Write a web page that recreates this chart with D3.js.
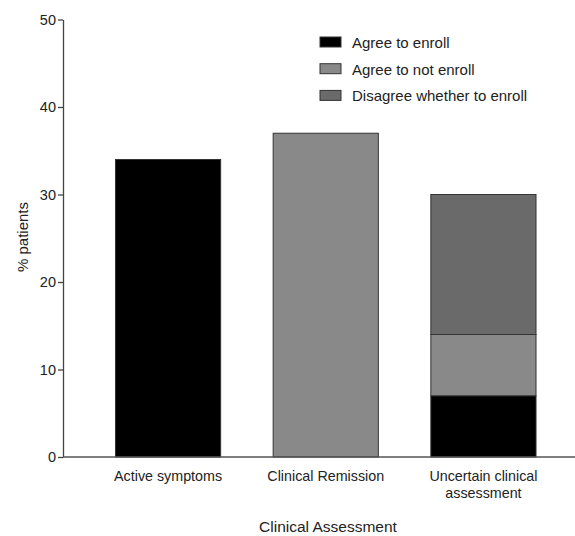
<!DOCTYPE html>
<html>
<head>
<meta charset="utf-8">
<script src="https://cdn.jsdelivr.net/npm/d3@7"></script>
<style>
  body { margin: 0; background: #fff; }
  text { font-family: "Liberation Sans", Arial, sans-serif; fill: #222; }
</style>
</head>
<body>
<svg id="plot" width="575" height="536"></svg>
<script>
// categories and stacked series (% patients)
let categories = ["Active symptoms", "Clinical Remission", "Uncertain clinical assessment"];
let seriesNames = ["Agree to enroll", "Agree to not enroll", "Disagree whether to enroll"];
let agreeEnroll = [34, 0, 7];
let agreeNotEnroll = [0, 37, 7];
let disagree = [0, 0, 16];
let yTicks = [0, 10, 20, 30, 40, 50];
let colors = ["#000000", "#898989", "#6a6a6a"];

let svg = d3.select("#plot");

let axis_left = 63, axis_right = 575;
let y_bottom = 457, y_top = 19.5;

// rows for d3.stack
let rows = categories.map((c, i) => ({
  cat: c,
  [seriesNames[0]]: agreeEnroll[i],
  [seriesNames[1]]: agreeNotEnroll[i],
  [seriesNames[2]]: disagree[i]
}));
let stacked = d3.stack().keys(seriesNames)(rows);

let x_scale = d3.scaleBand(categories, [89.2, 562.3]).paddingInner(0.333).paddingOuter(0.1667);
let y_scale = d3.scaleLinear([0, 50], [y_bottom, y_top]);

// bars
let gBars = svg.append("g");
gBars.selectAll("g")
  .data(stacked)
  .join("g")
  .attr("fill", (d, i) => colors[i])
  .selectAll("rect")
  .data(d => d.filter(s => s[1] - s[0] > 0))
  .join("rect")
  .attr("x", d => x_scale(d.data.cat))
  .attr("y", d => y_scale(d[1]))
  .attr("width", x_scale.bandwidth())
  .attr("height", d => y_scale(d[0]) - y_scale(d[1]))
  .attr("stroke", "#333")
  .attr("stroke-width", 1);

// y axis
let yAxis = d3.axisLeft(y_scale).tickValues(yTicks).tickSize(5).tickSizeOuter(0).tickPadding(2);
let y_ax = svg.append("g")
  .attr("transform", `translate(${axis_left},0)`)
  .call(yAxis);
y_ax.selectAll("text").style("font-size", "14.5px").attr("fill", "#222");
y_ax.selectAll("line, path").attr("stroke", "#444").attr("stroke-width", 1.3);

// x axis line
svg.append("line")
  .attr("x1", axis_left).attr("x2", axis_right)
  .attr("y1", y_bottom).attr("y2", y_bottom)
  .attr("stroke", "#555").attr("stroke-width", 1.3);

// x category labels (wrapped)
let xLabels = [["Active symptoms"], ["Clinical Remission"], ["Uncertain clinical", "assessment"]];
categories.forEach((c, i) => {
  let t = svg.append("text")
    .attr("text-anchor", "middle")
    .attr("x", x_scale(c) + x_scale.bandwidth() / 2)
    .attr("y", 481)
    .style("font-size", "14.3px");
  xLabels[i].forEach((line, j) => {
    t.append("tspan")
      .attr("x", x_scale(c) + x_scale.bandwidth() / 2)
      .attr("dy", j === 0 ? 0 : 16.7)
      .text(line);
  });
});

// axis titles
svg.append("text")
  .attr("text-anchor", "middle")
  .attr("x", 328).attr("y", 532)
  .style("font-size", "15.5px")
  .text("Clinical Assessment");

svg.append("text")
  .attr("text-anchor", "middle")
  .attr("transform", `translate(28,237) rotate(-90)`)
  .style("font-size", "15px")
  .text("% patients");

// legend
let legend = svg.append("g").attr("transform", "translate(320,37)");
seriesNames.forEach((name, i) => {
  let row = legend.append("g").attr("transform", `translate(0,${i * 26.7})`);
  row.append("rect")
    .attr("width", 21).attr("height", 10)
    .attr("fill", colors[i])
    .attr("stroke", "#333").attr("stroke-width", 1);
  row.append("text")
    .attr("x", 32).attr("y", 11)
    .style("font-size", "15px")
    .text(name);
});
</script>
</body>
</html>
